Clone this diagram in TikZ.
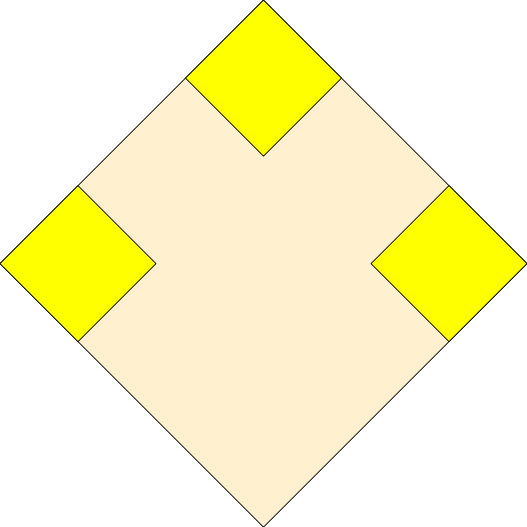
\documentclass[tikz,border=0pt]{standalone}
\usepackage{tikz}
\usepackage{xcolor}
\definecolor{sandfill}{RGB}{255,240,208}
\definecolor{cornerfill}{RGB}{255,255,0}
\begin{document}
\begin{tikzpicture}[x=0.2mm, y=-0.2mm, line width=0.4pt]
\useasboundingbox (0,0) rectangle (527,527);
% the big diamond
\filldraw[fill=sandfill, draw=black] (263.5,0) -- (527,263.5) -- (263.5,527) -- (0,263.5) -- cycle;

% the three corner squares (top, left, right), half diagonal 78
\foreach \cx/\cy in {263.5/78, 78/263.5, 449/263.5} {
  \filldraw[fill=cornerfill, draw=black]
    (\cx,\cy-78) -- (\cx+78,\cy) -- (\cx,\cy+78) -- (\cx-78,\cy) -- cycle;
}
\end{tikzpicture}
\end{document}
